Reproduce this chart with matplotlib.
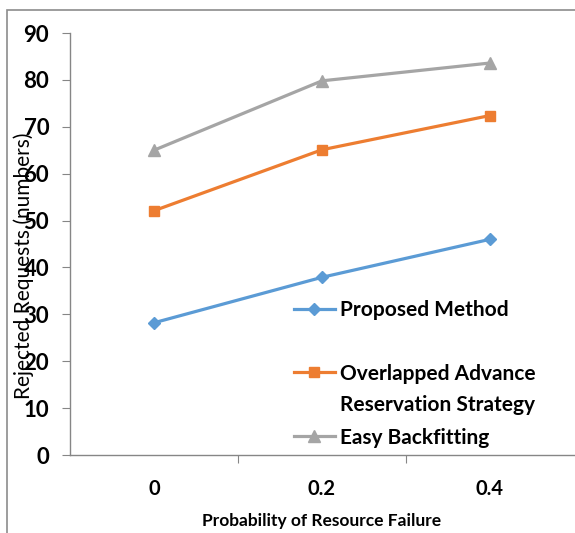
import matplotlib
matplotlib.use('Agg')
import matplotlib.pyplot as plt
from matplotlib import font_manager
from matplotlib.patches import Rectangle

# data
categories = ['0', '0.2', '0.4']
proposed = [28.2, 37.9, 46.0]
overlapped = [52.1, 65.1, 72.4]
easy = [65.0, 79.8, 83.6]
y_ticks = [0, 10, 20, 30, 40, 50, 60, 70, 80, 90]

names = set(f.name for f in font_manager.fontManager.ttflist)
font = 'Liberation Sans Narrow' if 'Liberation Sans Narrow' in names else 'Lato'
plt.rcParams['font.family'] = [font, 'DejaVu Sans']

blue = '#5B9BD5'
orange = '#ED7D31'
gray = '#A5A5A5'
axc = '#868686'

fig = plt.figure(figsize=(5.75, 5.33), dpi=100)
ax = fig.add_axes([70/575, 1-455/533, 504/575, 422/533])

x = list(range(len(categories)))
l1, = ax.plot(x, proposed, color=blue, lw=2.3, marker='D', ms=6.5, label='Proposed Method')
l2, = ax.plot(x, overlapped, color=orange, lw=2.3, marker='s', ms=7, label='Overlapped Advance')
l3, = ax.plot(x, easy, color=gray, lw=2.3, marker='^', ms=8, label='Easy Backfitting')

ax.set_xlim(-0.5, 2.5)
ax.set_ylim(0, 90)
ax.set_yticks(y_ticks)
ax.set_xticks([0.5, 1.5], minor=False)
ax.set_xticklabels([])
ax.set_xticks(x, minor=True)
ax.set_xticklabels(categories, minor=True, fontsize=14.5, fontweight='bold')
ax.tick_params(axis='x', which='minor', length=0, pad=17)
ax.tick_params(axis='x', which='major', length=6, direction='out', color=axc)
ax.tick_params(axis='y', length=6, direction='out', color=axc, pad=9, labelsize=16)
for t in ax.get_yticklabels():
    t.set_fontweight('bold')

for s in ['top', 'right']:
    ax.spines[s].set_visible(False)
for s in ['left', 'bottom']:
    ax.spines[s].set_color(axc)
    ax.spines[s].set_linewidth(1.0)
ax.spines['left'].set_bounds(0, 90)

fig.text(24/575, 1-266/533, 'Rejected Requests (numbers)', rotation=90,
         ha='center', va='center', fontsize=15)
fig.text(322/575, 1-521/533, 'Probability of Resource Failure', ha='center',
         va='center', fontsize=12.5, fontweight='bold')

leg = ax.legend(handles=[l1, l2, l3], loc='upper left', bbox_to_anchor=(294/575, 1-300/533),
                bbox_transform=fig.transFigure, frameon=False, handlelength=1.95,
                handletextpad=0.25, labelspacing=2.1, borderpad=0, borderaxespad=0,
                prop={'size': 15, 'weight': 'bold'})
fig.text(340/575, 1-405/533, 'Reservation Strategy', ha='left', va='center',
         fontsize=15, fontweight='bold')

fig.patches.append(Rectangle((7/575, -0.2), 1.2, 1.2 - 10/533, transform=fig.transFigure,
                             fill=False, edgecolor='#8c8c8c', lw=1.2, clip_on=False))

fig.savefig('out.png', dpi=100)
